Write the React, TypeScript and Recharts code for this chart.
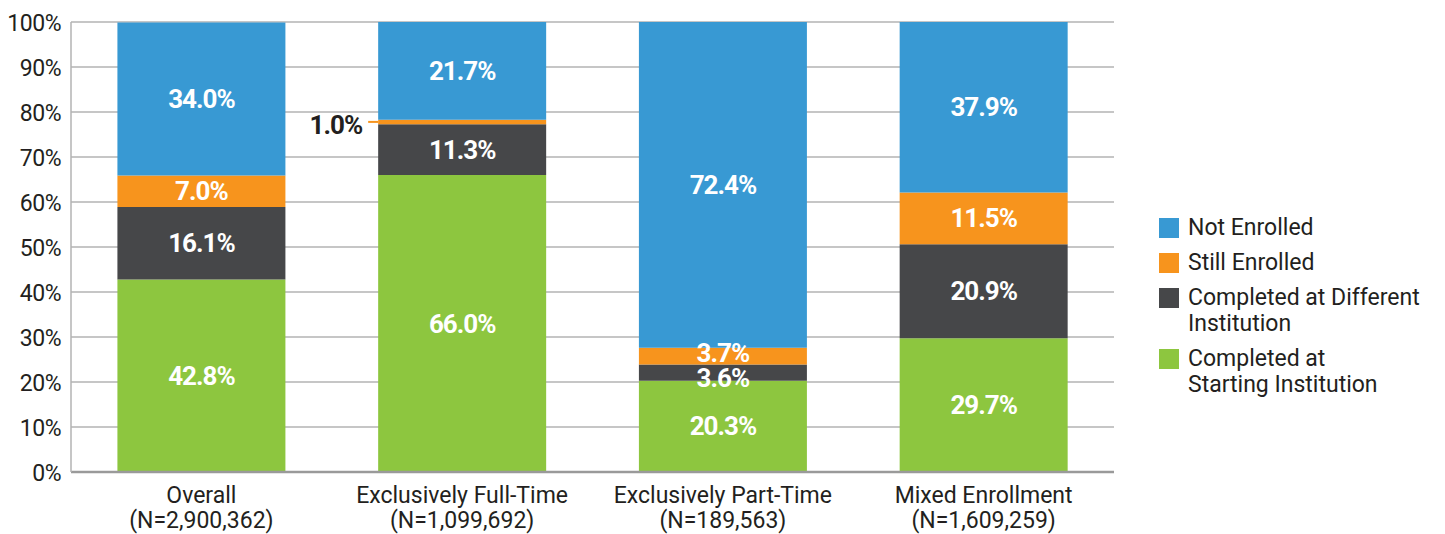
import React from 'react';
import {
  BarChart,
  Bar,
  XAxis,
  YAxis,
  CartesianGrid,
  Legend,
  LabelList,
} from 'recharts';

const categories = ['Overall', 'Exclusively Full-Time', 'Exclusively Part-Time', 'Mixed Enrollment'];
const counts = ['(N=2,900,362)', '(N=1,099,692)', '(N=189,563)', '(N=1,609,259)'];
const completedStarting = [42.8, 66.0, 20.3, 29.7];
const completedDifferent = [16.1, 11.3, 3.6, 20.9];
const stillEnrolled = [7.0, 1.0, 3.7, 11.5];
const notEnrolled = [34.0, 21.7, 72.4, 37.9];
const yTicks = [0, 10, 20, 30, 40, 50, 60, 70, 80, 90, 100];

const FONT = 'Roboto, "Liberation Sans", sans-serif';
const TEXT = '#231f20';

const series = [
  { key: 'starting', name: ['Completed at', 'Starting Institution'], color: '#8dc63f' },
  { key: 'different', name: ['Completed at Different', 'Institution'], color: '#464749' },
  { key: 'still', name: ['Still Enrolled'], color: '#f7941d' },
  { key: 'notEnrolled', name: ['Not Enrolled'], color: '#3899d3' },
];

const data = categories.map((c, i) => ({
  category: c,
  starting: completedStarting[i],
  different: completedDifferent[i],
  still: stillEnrolled[i],
  notEnrolled: notEnrolled[i],
}));

const fmt = (v: number) => `${v.toFixed(1)}%`;

function XTick(props: any) {
  const { x, y, payload, index } = props;
  return (
    <g fontFamily={FONT} fontSize={23} fill={TEXT}>
      <text x={x} y={y + 23} textAnchor="middle">
        {payload.value}
      </text>
      <text x={x} y={y + 48} textAnchor="middle">
        {counts[index]}
      </text>
    </g>
  );
}

function YTick(props: any) {
  const { x, y, payload } = props;
  return (
    <text x={x - 2} y={y + 9} textAnchor="end" fontSize={23} fill={TEXT} fontFamily={FONT} letterSpacing={-0.5}>
      {payload.value}%
    </text>
  );
}

// small segments: push the two stacked labels apart a little, like the original
function makeCenterLabel(shift: number) {
  return function CenterLabel(props: any) {
    const { x, y, width, height, value } = props;
    const dy = height < 20 ? shift : 0;
    return (
      <text
        x={x + width / 2}
        y={y + height / 2 + 9 + dy}
        textAnchor="middle"
        fontSize={26}
        fontWeight="bold"
        letterSpacing={-1}
        fill="#ffffff"
        fontFamily={FONT}
      >
        {fmt(value)}
      </text>
    );
  };
}

const PlainLabel = makeCenterLabel(0);
const DifferentLabel = makeCenterLabel(5);
const StillCenter = makeCenterLabel(-3);

function StillLabel(props: any) {
  const { x, y, height, value } = props;
  if (value < 2) {
    const cy = y + height / 2;
    return (
      <g>
        <line x1={x - 10} y1={cy} x2={x} y2={cy} stroke="#f7941d" strokeWidth={2} />
        <text
          x={x - 16}
          y={cy + 12}
          textAnchor="end"
          fontSize={26}
          fontWeight="bold"
          letterSpacing={-1}
          fill={TEXT}
          fontFamily={FONT}
        >
          {fmt(value)}
        </text>
      </g>
    );
  }
  return <StillCenter {...props} />;
}

function LegendContent() {
  const items = [...series].reverse();
  return (
    <div style={{ fontFamily: FONT, fontSize: 23, color: TEXT, width: 290 }}>
      {items.map((s) => (
        <div key={s.key} style={{ display: 'flex', alignItems: 'flex-start', marginBottom: 9 }}>
          <div style={{ width: 20, height: 20, background: s.color, marginTop: 3, marginRight: 9, flexShrink: 0 }} />
          <div style={{ lineHeight: '26px' }}>
            {s.name.map((l) => (
              <div key={l}>{l}</div>
            ))}
          </div>
        </div>
      ))}
    </div>
  );
}

const labelFor = (key: string) => {
  if (key === 'still') return <StillLabel />;
  if (key === 'different') return <DifferentLabel />;
  return <PlainLabel />;
};

export default function App() {
  return (
    <div style={{ position: 'absolute', left: 0, top: 0, width: 1445, height: 534, background: '#fff' }}>
      <BarChart
        width={1445}
        height={534}
        data={data}
        margin={{ top: 22, right: 331, left: 0, bottom: 0 }}
        barCategoryGap="17.8%"
      >
        <CartesianGrid vertical={false} stroke="#b3b3b3" strokeWidth={1.5} />
        <XAxis
          dataKey="category"
          height={62}
          tickLine={false}
          axisLine={{ stroke: '#9a9a9a', strokeWidth: 2.5 }}
          tick={<XTick />}
          interval={0}
        />
        <YAxis
          width={71}
          domain={[0, 100]}
          ticks={yTicks}
          tickLine={false}
          axisLine={{ stroke: '#b3b3b3', strokeWidth: 1.5 }}
          tick={<YTick />}
        />
        <Legend
          layout="vertical"
          align="center"
          verticalAlign="middle"
          wrapperStyle={{ position: 'absolute', left: 1159, top: 215, width: 290 }}
          content={<LegendContent />}
        />
        {series.map((s) => (
          <Bar key={s.key} dataKey={s.key} stackId="a" fill={s.color} isAnimationActive={false}>
            <LabelList dataKey={s.key} content={labelFor(s.key)} />
          </Bar>
        ))}
      </BarChart>
    </div>
  );
}
